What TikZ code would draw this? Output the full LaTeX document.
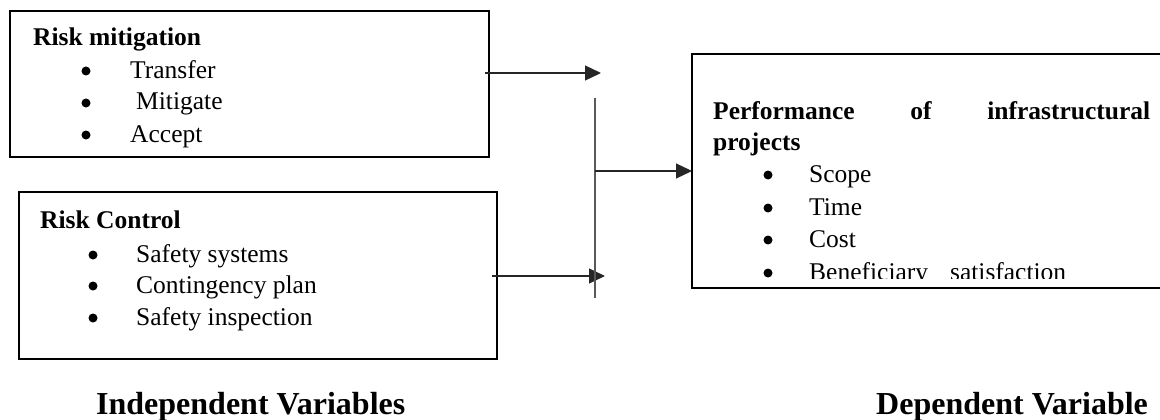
\documentclass[tikz,border=0pt]{standalone}
\usepackage{fontspec}
\setmainfont{Liberation Serif}
\usetikzlibrary{arrows.meta}
\begin{document}
\begin{tikzpicture}[x=1pt,y=-1pt,
  box/.style={draw=black, line width=2.4pt, inner sep=0pt, outer sep=0pt, anchor=north west},
  txt/.style={anchor=base west, inner sep=0pt, font=\fontsize{25.5}{30}\selectfont},
  ttl/.style={anchor=base west, inner sep=0pt, font=\fontsize{25.5}{30}\selectfont\bfseries},
  bul/.style={circle, fill=black, inner sep=0pt, minimum size=9pt, yshift=7pt},
  big/.style={anchor=base west, inner sep=0pt, font=\fontsize{32}{38}\selectfont\bfseries},
  arr/.style={draw=black!85, line width=1.2pt, -{Triangle[length=16pt,width=15pt]}},
  bus/.style={draw=black!65, line width=2pt}]
\clip (0,0) rectangle (1160,420);
% boxes
\node[box, minimum width=479pt, minimum height=146pt] (m) at (10,11) {};
\node[box, minimum width=478pt, minimum height=167pt] (c) at (19,192) {};
\node[box, minimum width=490pt, minimum height=234pt] (p) at (692,54) {};
% box 1 text
\node[ttl] (mt) at (33,46) {Risk mitigation};
\node[bul] (mb1) at (86,78) {};
\node[bul] (mb2) at (86,110) {};
\node[bul] (mb3) at (86,142) {};
\node[txt] (m1) at (130,78) {Transfer};
\node[txt] (m2) at (136,110) {Mitigate};
\node[txt] (m3) at (130,142) {Accept};
% box 2 text
\node[ttl] (ct) at (40,228) {Risk Control};
\node[bul] (cb1) at (93,262) {};
\node[bul] (cb2) at (93,293) {};
\node[bul] (cb3) at (93,325) {};
\node[txt] (c1) at (136,262) {Safety systems};
\node[txt] (c2) at (136,293) {Contingency plan};
\node[txt] (c3) at (136,325) {Safety inspection};
% box 3 text
\node[ttl] (pt) at (713,120) {\makebox[437pt][s]{Performance of infrastructural}};
\node[ttl] (pt2) at (713,150) {projects};
\node[bul] (pb1) at (768,182) {};
\node[bul] (pb2) at (768,215) {};
\node[bul] (pb3) at (768,247) {};
\node[txt] (p1) at (809,182) {Scope};
\node[txt] (p2) at (809,215) {Time};
\node[txt] (p3) at (809,247) {Cost};
\begin{scope}
  \clip (692,54) rectangle (1160,278);
  \node[bul] (pb4) at (768,280) {};
  \node[txt] (p4) at (809,280) {\makebox[257pt][s]{Beneficiary satisfaction}};
\end{scope}
% captions
\node[big] (iv) at (96,414) {Independent Variables};
\node[big] (dv) at (876,414) {Dependent Variable};
% connectors
\coordinate (a1s) at (485,73);
\coordinate (a1e) at (601,73);
\coordinate (a2s) at (492,276);
\coordinate (a2e) at (605,276);
\coordinate (bt) at (595,98);
\coordinate (bb) at (595,298);
\draw[arr] (a1s) -- (a1e);
\draw[arr] (a2s) -- (a2e);
\draw[bus] (bt) -- (bb);
\draw[arr] (bt |- p.west) -- (p.west);
\end{tikzpicture}
\end{document}
